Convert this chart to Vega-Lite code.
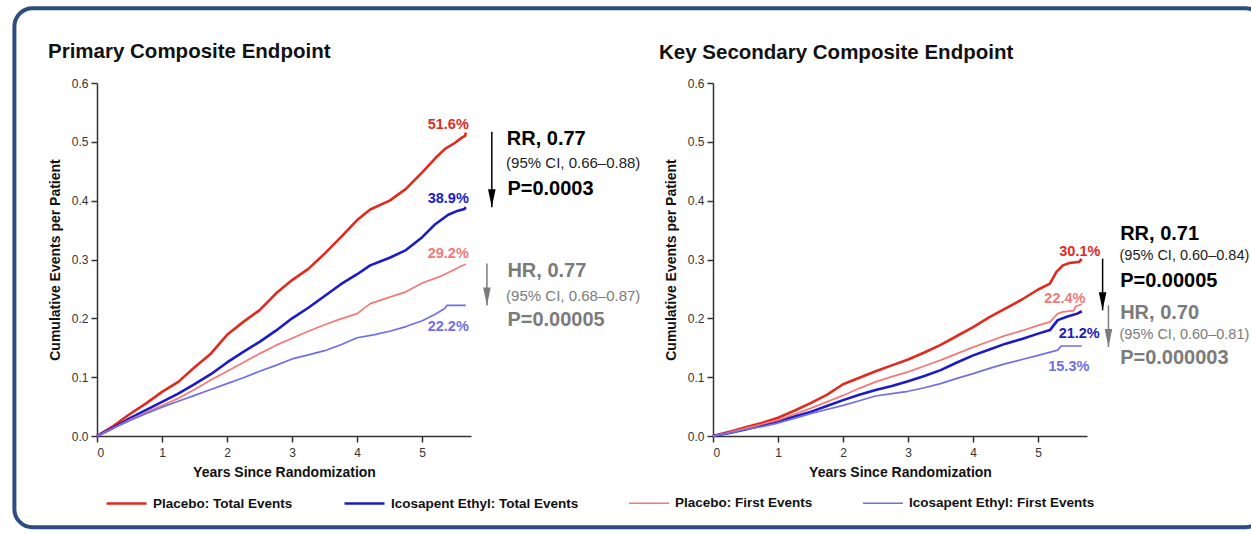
{
  "$schema": "https://vega.github.io/schema/vega-lite/v6.json",
  "background": "white",
  "padding": {"left": 12, "top": 6, "right": -14, "bottom": 0},
  "config": {
    "font": "Liberation Sans",
    "view": {"stroke": null},
    "axis": {"grid": false, "domainColor": "#333333", "domainWidth": 1.5, "tickColor": "#333333", "tickWidth": 1.5, "tickSize": 6, "labelFont": "Liberation Sans", "labelFontSize": 12, "labelColor": "#333333", "titleFont": "Liberation Sans", "titleFontSize": 14, "titleFontWeight": "bold", "titleColor": "#111111"},
    "legend": {"orient": "bottom", "direction": "horizontal", "symbolType": "stroke", "symbolSize": 1600, "labelFont": "Liberation Sans", "labelFontSize": 13.5, "labelFontWeight": "bold", "labelColor": "#111111", "columnPadding": 46, "labelOffset": 5, "offset": -56, "padding": 8, "labelLimit": 400},
    "title": {"font": "Liberation Sans", "fontSize": 20.5, "fontWeight": "bold", "color": "#111111", "anchor": "start", "frame": "group", "offset": 14}
  },
  "datasets": {
    "frame": [{"name": "frame"}],
    "curves": [
      {"p":"A","s":"PT","t":0,"v":0},{"p":"A","s":"PT","t":0.25,"v":0.017},{"p":"A","s":"PT","t":0.5,"v":0.037},{"p":"A","s":"PT","t":0.75,"v":0.055},{"p":"A","s":"PT","t":1,"v":0.075},{"p":"A","s":"PT","t":1.25,"v":0.092},{"p":"A","s":"PT","t":1.5,"v":0.117},{"p":"A","s":"PT","t":1.75,"v":0.14},{"p":"A","s":"PT","t":2,"v":0.172},{"p":"A","s":"PT","t":2.25,"v":0.194},{"p":"A","s":"PT","t":2.5,"v":0.214},{"p":"A","s":"PT","t":2.75,"v":0.242},{"p":"A","s":"PT","t":3,"v":0.265},{"p":"A","s":"PT","t":3.25,"v":0.284},{"p":"A","s":"PT","t":3.5,"v":0.31},{"p":"A","s":"PT","t":3.75,"v":0.338},{"p":"A","s":"PT","t":4,"v":0.367},{"p":"A","s":"PT","t":4.2,"v":0.385},{"p":"A","s":"PT","t":4.5,"v":0.4},{"p":"A","s":"PT","t":4.75,"v":0.42},{"p":"A","s":"PT","t":5,"v":0.448},{"p":"A","s":"PT","t":5.2,"v":0.472},{"p":"A","s":"PT","t":5.35,"v":0.488},{"p":"A","s":"PT","t":5.5,"v":0.498},{"p":"A","s":"PT","t":5.62,"v":0.508},{"p":"A","s":"PT","t":5.66,"v":0.51},{"p":"A","s":"PT","t":5.67,"v":0.516},
      {"p":"A","s":"IT","t":0,"v":0},{"p":"A","s":"IT","t":0.25,"v":0.014},{"p":"A","s":"IT","t":0.5,"v":0.03},{"p":"A","s":"IT","t":0.75,"v":0.044},{"p":"A","s":"IT","t":1,"v":0.058},{"p":"A","s":"IT","t":1.25,"v":0.072},{"p":"A","s":"IT","t":1.5,"v":0.088},{"p":"A","s":"IT","t":1.75,"v":0.105},{"p":"A","s":"IT","t":2,"v":0.125},{"p":"A","s":"IT","t":2.25,"v":0.143},{"p":"A","s":"IT","t":2.5,"v":0.16},{"p":"A","s":"IT","t":2.75,"v":0.179},{"p":"A","s":"IT","t":3,"v":0.2},{"p":"A","s":"IT","t":3.25,"v":0.218},{"p":"A","s":"IT","t":3.5,"v":0.238},{"p":"A","s":"IT","t":3.75,"v":0.258},{"p":"A","s":"IT","t":4,"v":0.275},{"p":"A","s":"IT","t":4.2,"v":0.29},{"p":"A","s":"IT","t":4.5,"v":0.303},{"p":"A","s":"IT","t":4.75,"v":0.316},{"p":"A","s":"IT","t":5,"v":0.338},{"p":"A","s":"IT","t":5.2,"v":0.36},{"p":"A","s":"IT","t":5.4,"v":0.376},{"p":"A","s":"IT","t":5.55,"v":0.383},{"p":"A","s":"IT","t":5.65,"v":0.386},{"p":"A","s":"IT","t":5.67,"v":0.389},
      {"p":"A","s":"PF","t":0,"v":0},{"p":"A","s":"PF","t":0.25,"v":0.013},{"p":"A","s":"PF","t":0.5,"v":0.027},{"p":"A","s":"PF","t":0.75,"v":0.04},{"p":"A","s":"PF","t":1,"v":0.052},{"p":"A","s":"PF","t":1.25,"v":0.064},{"p":"A","s":"PF","t":1.5,"v":0.079},{"p":"A","s":"PF","t":1.75,"v":0.095},{"p":"A","s":"PF","t":2,"v":0.11},{"p":"A","s":"PF","t":2.25,"v":0.125},{"p":"A","s":"PF","t":2.5,"v":0.14},{"p":"A","s":"PF","t":2.75,"v":0.154},{"p":"A","s":"PF","t":3,"v":0.166},{"p":"A","s":"PF","t":3.25,"v":0.178},{"p":"A","s":"PF","t":3.5,"v":0.189},{"p":"A","s":"PF","t":3.75,"v":0.199},{"p":"A","s":"PF","t":4,"v":0.208},{"p":"A","s":"PF","t":4.2,"v":0.225},{"p":"A","s":"PF","t":4.5,"v":0.236},{"p":"A","s":"PF","t":4.75,"v":0.245},{"p":"A","s":"PF","t":5,"v":0.26},{"p":"A","s":"PF","t":5.25,"v":0.27},{"p":"A","s":"PF","t":5.5,"v":0.283},{"p":"A","s":"PF","t":5.6,"v":0.289},{"p":"A","s":"PF","t":5.67,"v":0.292},
      {"p":"A","s":"IF","t":0,"v":0},{"p":"A","s":"IF","t":0.25,"v":0.013},{"p":"A","s":"IF","t":0.5,"v":0.026},{"p":"A","s":"IF","t":0.75,"v":0.038},{"p":"A","s":"IF","t":1,"v":0.049},{"p":"A","s":"IF","t":1.25,"v":0.059},{"p":"A","s":"IF","t":1.5,"v":0.069},{"p":"A","s":"IF","t":1.75,"v":0.079},{"p":"A","s":"IF","t":2,"v":0.089},{"p":"A","s":"IF","t":2.25,"v":0.099},{"p":"A","s":"IF","t":2.5,"v":0.11},{"p":"A","s":"IF","t":2.75,"v":0.12},{"p":"A","s":"IF","t":3,"v":0.131},{"p":"A","s":"IF","t":3.25,"v":0.138},{"p":"A","s":"IF","t":3.5,"v":0.145},{"p":"A","s":"IF","t":3.75,"v":0.155},{"p":"A","s":"IF","t":4,"v":0.167},{"p":"A","s":"IF","t":4.25,"v":0.172},{"p":"A","s":"IF","t":4.5,"v":0.178},{"p":"A","s":"IF","t":4.75,"v":0.186},{"p":"A","s":"IF","t":5,"v":0.196},{"p":"A","s":"IF","t":5.2,"v":0.207},{"p":"A","s":"IF","t":5.35,"v":0.217},{"p":"A","s":"IF","t":5.38,"v":0.222},{"p":"A","s":"IF","t":5.67,"v":0.222},
      {"p":"B","s":"PT","t":0,"v":0},{"p":"B","s":"PT","t":0.25,"v":0.007},{"p":"B","s":"PT","t":0.5,"v":0.015},{"p":"B","s":"PT","t":0.75,"v":0.022},{"p":"B","s":"PT","t":1,"v":0.031},{"p":"B","s":"PT","t":1.25,"v":0.043},{"p":"B","s":"PT","t":1.5,"v":0.056},{"p":"B","s":"PT","t":1.75,"v":0.07},{"p":"B","s":"PT","t":2,"v":0.088},{"p":"B","s":"PT","t":2.25,"v":0.099},{"p":"B","s":"PT","t":2.5,"v":0.11},{"p":"B","s":"PT","t":2.75,"v":0.12},{"p":"B","s":"PT","t":3,"v":0.13},{"p":"B","s":"PT","t":3.25,"v":0.142},{"p":"B","s":"PT","t":3.5,"v":0.155},{"p":"B","s":"PT","t":3.75,"v":0.17},{"p":"B","s":"PT","t":4,"v":0.185},{"p":"B","s":"PT","t":4.25,"v":0.202},{"p":"B","s":"PT","t":4.5,"v":0.217},{"p":"B","s":"PT","t":4.75,"v":0.232},{"p":"B","s":"PT","t":5,"v":0.249},{"p":"B","s":"PT","t":5.18,"v":0.259},{"p":"B","s":"PT","t":5.28,"v":0.279},{"p":"B","s":"PT","t":5.38,"v":0.29},{"p":"B","s":"PT","t":5.48,"v":0.294},{"p":"B","s":"PT","t":5.63,"v":0.296},{"p":"B","s":"PT","t":5.67,"v":0.301},
      {"p":"B","s":"IT","t":0,"v":0},{"p":"B","s":"IT","t":0.25,"v":0.005},{"p":"B","s":"IT","t":0.5,"v":0.011},{"p":"B","s":"IT","t":0.75,"v":0.018},{"p":"B","s":"IT","t":1,"v":0.025},{"p":"B","s":"IT","t":1.25,"v":0.033},{"p":"B","s":"IT","t":1.5,"v":0.041},{"p":"B","s":"IT","t":1.75,"v":0.051},{"p":"B","s":"IT","t":2,"v":0.061},{"p":"B","s":"IT","t":2.25,"v":0.07},{"p":"B","s":"IT","t":2.5,"v":0.078},{"p":"B","s":"IT","t":2.75,"v":0.085},{"p":"B","s":"IT","t":3,"v":0.093},{"p":"B","s":"IT","t":3.25,"v":0.102},{"p":"B","s":"IT","t":3.5,"v":0.112},{"p":"B","s":"IT","t":3.75,"v":0.125},{"p":"B","s":"IT","t":4,"v":0.137},{"p":"B","s":"IT","t":4.25,"v":0.147},{"p":"B","s":"IT","t":4.5,"v":0.157},{"p":"B","s":"IT","t":4.75,"v":0.165},{"p":"B","s":"IT","t":5,"v":0.174},{"p":"B","s":"IT","t":5.18,"v":0.18},{"p":"B","s":"IT","t":5.3,"v":0.197},{"p":"B","s":"IT","t":5.45,"v":0.203},{"p":"B","s":"IT","t":5.6,"v":0.208},{"p":"B","s":"IT","t":5.67,"v":0.212},
      {"p":"B","s":"PF","t":0,"v":0},{"p":"B","s":"PF","t":0.25,"v":0.006},{"p":"B","s":"PF","t":0.5,"v":0.013},{"p":"B","s":"PF","t":0.75,"v":0.02},{"p":"B","s":"PF","t":1,"v":0.027},{"p":"B","s":"PF","t":1.25,"v":0.037},{"p":"B","s":"PF","t":1.5,"v":0.047},{"p":"B","s":"PF","t":1.75,"v":0.058},{"p":"B","s":"PF","t":2,"v":0.069},{"p":"B","s":"PF","t":2.25,"v":0.081},{"p":"B","s":"PF","t":2.5,"v":0.092},{"p":"B","s":"PF","t":2.75,"v":0.101},{"p":"B","s":"PF","t":3,"v":0.109},{"p":"B","s":"PF","t":3.25,"v":0.119},{"p":"B","s":"PF","t":3.5,"v":0.129},{"p":"B","s":"PF","t":3.75,"v":0.14},{"p":"B","s":"PF","t":4,"v":0.151},{"p":"B","s":"PF","t":4.25,"v":0.161},{"p":"B","s":"PF","t":4.5,"v":0.171},{"p":"B","s":"PF","t":4.75,"v":0.179},{"p":"B","s":"PF","t":5,"v":0.188},{"p":"B","s":"PF","t":5.18,"v":0.194},{"p":"B","s":"PF","t":5.3,"v":0.208},{"p":"B","s":"PF","t":5.38,"v":0.211},{"p":"B","s":"PF","t":5.55,"v":0.213},{"p":"B","s":"PF","t":5.57,"v":0.22},{"p":"B","s":"PF","t":5.67,"v":0.224},
      {"p":"B","s":"IF","t":0,"v":0},{"p":"B","s":"IF","t":0.25,"v":0.005},{"p":"B","s":"IF","t":0.5,"v":0.011},{"p":"B","s":"IF","t":0.75,"v":0.016},{"p":"B","s":"IF","t":1,"v":0.022},{"p":"B","s":"IF","t":1.25,"v":0.03},{"p":"B","s":"IF","t":1.5,"v":0.038},{"p":"B","s":"IF","t":1.75,"v":0.045},{"p":"B","s":"IF","t":2,"v":0.052},{"p":"B","s":"IF","t":2.25,"v":0.06},{"p":"B","s":"IF","t":2.5,"v":0.068},{"p":"B","s":"IF","t":2.75,"v":0.072},{"p":"B","s":"IF","t":3,"v":0.076},{"p":"B","s":"IF","t":3.25,"v":0.082},{"p":"B","s":"IF","t":3.5,"v":0.089},{"p":"B","s":"IF","t":3.75,"v":0.098},{"p":"B","s":"IF","t":4,"v":0.106},{"p":"B","s":"IF","t":4.25,"v":0.115},{"p":"B","s":"IF","t":4.5,"v":0.123},{"p":"B","s":"IF","t":4.75,"v":0.13},{"p":"B","s":"IF","t":5,"v":0.137},{"p":"B","s":"IF","t":5.3,"v":0.146},{"p":"B","s":"IF","t":5.35,"v":0.153},{"p":"B","s":"IF","t":5.67,"v":0.153}
    ],
    "ends": [
      {"p":"A","s":"PT","t":5.40,"v":0.529,"label":"51.6%"},
      {"p":"A","s":"IT","t":5.40,"v":0.402,"label":"38.9%"},
      {"p":"A","s":"PF","t":5.40,"v":0.309,"label":"29.2%"},
      {"p":"A","s":"IF","t":5.40,"v":0.185,"label":"22.2%"},
      {"p":"B","s":"PT","t":5.64,"v":0.3128,"label":"30.1%"},
      {"p":"B","s":"PF","t":5.41,"v":0.2329,"label":"22.4%"},
      {"p":"B","s":"IT","t":5.63,"v":0.174,"label":"21.2%"},
      {"p":"B","s":"IF","t":5.47,"v":0.1173,"label":"15.3%"}
    ],
    "notes": [
      {"p":"A","g":"k","k":"h","t":6.30,"v":0.5055,"text":"RR, 0.77"},
      {"p":"A","g":"k","k":"c","t":6.29,"v":0.464,"text":"(95% CI, 0.66–0.88)"},
      {"p":"A","g":"k","k":"h","t":6.31,"v":0.4205,"text":"P=0.0003"},
      {"p":"A","g":"g","k":"h","t":6.31,"v":0.280,"text":"HR, 0.77"},
      {"p":"A","g":"g","k":"c","t":6.29,"v":0.238,"text":"(95% CI, 0.68–0.87)"},
      {"p":"A","g":"g","k":"h","t":6.31,"v":0.1967,"text":"P=0.00005"},
      {"p":"B","g":"k","k":"h","t":6.26,"v":0.344,"text":"RR, 0.71"},
      {"p":"B","g":"k","k":"c","t":6.25,"v":0.3058,"text":"(95% CI, 0.60–0.84)"},
      {"p":"B","g":"k","k":"h","t":6.26,"v":0.264,"text":"P=0.00005"},
      {"p":"B","g":"g","k":"h","t":6.26,"v":0.2094,"text":"HR, 0.70"},
      {"p":"B","g":"g","k":"c","t":6.25,"v":0.1725,"text":"(95% CI, 0.60–0.81)"},
      {"p":"B","g":"g","k":"h","t":6.26,"v":0.133,"text":"P=0.000003"}
    ],
    "arrows": [
      {"p":"A","g":"k","t":6.07,"v1":0.517,"v2":0.389},
      {"p":"A","g":"g","t":5.995,"v1":0.293,"v2":0.222},
      {"p":"B","g":"k","t":5.99,"v1":0.3015,"v2":0.2137},
      {"p":"B","g":"g","t":6.08,"v1":0.222,"v2":0.1513}
    ]
  },
  "hconcat": [
    {
      "width": 374, "height": 353,
      "title": {"text": "Primary Composite Endpoint", "dx": -49, "offset": -56},
      "layer": [
        {
          "data": {"name": "frame"},
          "mark": {"type": "rect", "fill": "transparent", "stroke": "#2d4d7f", "strokeWidth": 4, "cornerRadius": 18, "clip": false},
          "encoding": {"x": {"datum": -1.27, "type": "quantitative"}, "x2": {"datum": 17.93}, "y": {"datum": 0.727, "type": "quantitative"}, "y2": {"datum": -0.155}}
        },
        {
          "data": {"name": "curves"},
          "transform": [{"filter": "datum.p == 'A'"}],
          "mark": {"type": "line", "strokeJoin": "round"},
          "encoding": {
            "x": {"field": "t", "type": "quantitative", "scale": {"domain": [0, 5.75], "nice": false, "zero": false}, "axis": {"values": [0,1,2,3,4,5], "format": "d", "title": "Years Since Randomization", "labelPadding": 5, "titlePadding": 7}},
            "y": {"field": "v", "type": "quantitative", "scale": {"domain": [0, 0.6], "nice": false}, "axis": {"values": [0,0.1,0.2,0.3,0.4,0.5,0.6], "format": ".1f", "title": "Cumulative Events per Patient", "labelPadding": 3, "titlePadding": 9}},
            "color": {"field": "s", "type": "nominal", "scale": {"domain": ["PT","IT","PF","IF"], "range": ["#e02a1e","#1a1ac8","#f27a76","#6f6fe8"]}, "legend": {"title": null, "labelExpr": "{'PT':'Placebo: Total Events','IT':'Icosapent Ethyl: Total Events','PF':'Placebo: First Events','IF':'Icosapent Ethyl: First Events'}[datum.label]"}},
            "strokeWidth": {"field": "s", "type": "nominal", "scale": {"type": "ordinal", "domain": ["PT","IT","PF","IF"], "range": [2.6, 2.6, 1.7, 1.7]}, "legend": {"title": null, "labelExpr": "{'PT':'Placebo: Total Events','IT':'Icosapent Ethyl: Total Events','PF':'Placebo: First Events','IF':'Icosapent Ethyl: First Events'}[datum.label]"}}
          }
        },
        {
          "data": {"name": "ends"},
          "transform": [{"filter": "datum.p == 'A'"}],
          "mark": {"type": "text", "fontSize": 14.5, "fontWeight": "bold", "align": "center", "baseline": "middle"},
          "encoding": {"x": {"field": "t", "type": "quantitative"}, "y": {"field": "v", "type": "quantitative"}, "text": {"field": "label"}, "color": {"field": "s", "type": "nominal"}}
        },
        {
          "data": {"name": "notes"},
          "transform": [{"filter": "datum.p == 'A' && datum.k == 'h'"}],
          "mark": {"type": "text", "fontSize": 20, "fontWeight": "bold", "align": "left", "baseline": "middle"},
          "encoding": {"x": {"field": "t", "type": "quantitative"}, "y": {"field": "v", "type": "quantitative"}, "text": {"field": "text"}, "fill": {"condition": {"test": "datum.g == 'g'", "value": "#7b7b7b"}, "value": "#000000"}}
        },
        {
          "data": {"name": "notes"},
          "transform": [{"filter": "datum.p == 'A' && datum.k == 'c'"}],
          "mark": {"type": "text", "fontSize": 15, "align": "left", "baseline": "middle"},
          "encoding": {"x": {"field": "t", "type": "quantitative"}, "y": {"field": "v", "type": "quantitative"}, "text": {"field": "text"}, "fill": {"condition": {"test": "datum.g == 'g'", "value": "#7b7b7b"}, "value": "#222222"}}
        },
        {
          "data": {"name": "arrows"},
          "transform": [{"filter": "datum.p == 'A'"}],
          "mark": {"type": "rule", "strokeWidth": 1.5},
          "encoding": {"x": {"field": "t", "type": "quantitative"}, "y": {"field": "v1", "type": "quantitative"}, "y2": {"field": "v2"}, "stroke": {"condition": {"test": "datum.g == 'g'", "value": "#7b7b7b"}, "value": "#000000"}}
        },
        {
          "data": {"name": "arrows"},
          "transform": [{"filter": "datum.p == 'A'"}],
          "mark": {"type": "point", "shape": "M-0.42,-2L0.42,-2L0,0Z", "size": 324, "filled": true, "opacity": 1, "strokeWidth": 0},
          "encoding": {"x": {"field": "t", "type": "quantitative"}, "y": {"field": "v2", "type": "quantitative"}, "fill": {"condition": {"test": "datum.g == 'g'", "value": "#7b7b7b"}, "value": "#000000"}}
        }
      ]
    },
    {
      "width": 374, "height": 353,
      "title": {"text": "Key Secondary Composite Endpoint", "dx": -54},
      "layer": [
        {
          "data": {"name": "curves"},
          "transform": [{"filter": "datum.p == 'B'"}],
          "mark": {"type": "line", "strokeJoin": "round"},
          "encoding": {
            "x": {"field": "t", "type": "quantitative", "scale": {"domain": [0, 5.75], "nice": false, "zero": false}, "axis": {"values": [0,1,2,3,4,5], "format": "d", "title": "Years Since Randomization", "labelPadding": 5, "titlePadding": 7}},
            "y": {"field": "v", "type": "quantitative", "scale": {"domain": [0, 0.6], "nice": false}, "axis": {"values": [0,0.1,0.2,0.3,0.4,0.5,0.6], "format": ".1f", "title": "Cumulative Events per Patient", "labelPadding": 3, "titlePadding": 9}},
            "color": {"field": "s", "type": "nominal", "scale": {"domain": ["PT","IT","PF","IF"], "range": ["#e02a1e","#1a1ac8","#f27a76","#6f6fe8"]}, "legend": {"title": null, "labelExpr": "{'PT':'Placebo: Total Events','IT':'Icosapent Ethyl: Total Events','PF':'Placebo: First Events','IF':'Icosapent Ethyl: First Events'}[datum.label]"}},
            "strokeWidth": {"field": "s", "type": "nominal", "scale": {"type": "ordinal", "domain": ["PT","IT","PF","IF"], "range": [2.6, 2.6, 1.7, 1.7]}, "legend": {"title": null, "labelExpr": "{'PT':'Placebo: Total Events','IT':'Icosapent Ethyl: Total Events','PF':'Placebo: First Events','IF':'Icosapent Ethyl: First Events'}[datum.label]"}}
          }
        },
        {
          "data": {"name": "ends"},
          "transform": [{"filter": "datum.p == 'B'"}],
          "mark": {"type": "text", "fontSize": 14.5, "fontWeight": "bold", "align": "center", "baseline": "middle"},
          "encoding": {"x": {"field": "t", "type": "quantitative"}, "y": {"field": "v", "type": "quantitative"}, "text": {"field": "label"}, "color": {"field": "s", "type": "nominal"}}
        },
        {
          "data": {"name": "notes"},
          "transform": [{"filter": "datum.p == 'B' && datum.k == 'h'"}],
          "mark": {"type": "text", "fontSize": 20, "fontWeight": "bold", "align": "left", "baseline": "middle"},
          "encoding": {"x": {"field": "t", "type": "quantitative"}, "y": {"field": "v", "type": "quantitative"}, "text": {"field": "text"}, "fill": {"condition": {"test": "datum.g == 'g'", "value": "#7b7b7b"}, "value": "#000000"}}
        },
        {
          "data": {"name": "notes"},
          "transform": [{"filter": "datum.p == 'B' && datum.k == 'c'"}],
          "mark": {"type": "text", "fontSize": 14.5, "align": "left", "baseline": "middle"},
          "encoding": {"x": {"field": "t", "type": "quantitative"}, "y": {"field": "v", "type": "quantitative"}, "text": {"field": "text"}, "fill": {"condition": {"test": "datum.g == 'g'", "value": "#7b7b7b"}, "value": "#222222"}}
        },
        {
          "data": {"name": "arrows"},
          "transform": [{"filter": "datum.p == 'B'"}],
          "mark": {"type": "rule", "strokeWidth": 1.5},
          "encoding": {"x": {"field": "t", "type": "quantitative"}, "y": {"field": "v1", "type": "quantitative"}, "y2": {"field": "v2"}, "stroke": {"condition": {"test": "datum.g == 'g'", "value": "#7b7b7b"}, "value": "#000000"}}
        },
        {
          "data": {"name": "arrows"},
          "transform": [{"filter": "datum.p == 'B'"}],
          "mark": {"type": "point", "shape": "M-0.42,-2L0.42,-2L0,0Z", "size": 324, "filled": true, "opacity": 1, "strokeWidth": 0},
          "encoding": {"x": {"field": "t", "type": "quantitative"}, "y": {"field": "v2", "type": "quantitative"}, "fill": {"condition": {"test": "datum.g == 'g'", "value": "#7b7b7b"}, "value": "#000000"}}
        }
      ]
    }
  ],
  "spacing": 242,
  "bounds": "flush",
  "resolve": {"scale": {"color": "shared", "strokeWidth": "shared"}}
}
